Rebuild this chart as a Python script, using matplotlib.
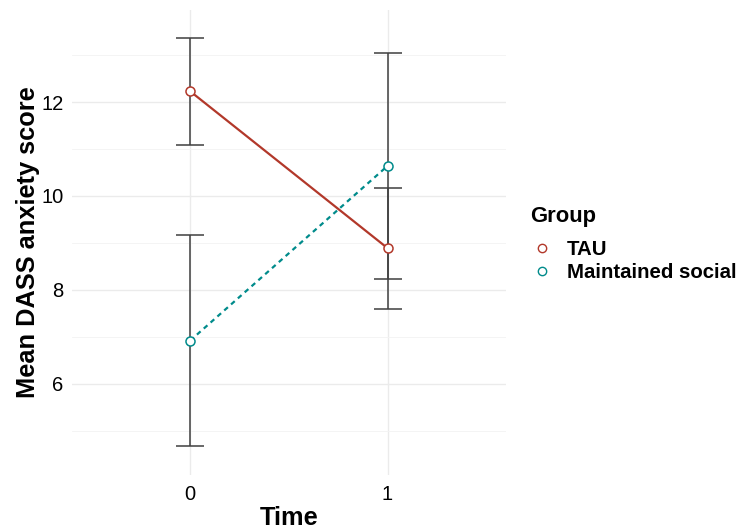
import matplotlib
matplotlib.use("Agg")
from matplotlib import pyplot as plt
from matplotlib.lines import Line2D

plt.rcParams["font.family"] = ["Liberation Sans", "DejaVu Sans"]

# summary values
time = [0, 1]
groups = ["TAU", "Maintained social"]
tau_mean = [12.23, 8.89]
tau_err = [1.14, 1.29]
soc_mean = [6.92, 10.64]
soc_err = [2.25, 2.41]

colors = {"TAU": "#B2382A", "Maintained social": "#008B8B"}
styles = {"TAU": "-", "Maintained social": (0, (2.2, 1.9))}

fig = plt.figure(figsize=(7.42, 5.31), dpi=100)
ax = fig.add_axes([0.0966, 0.1055, 0.5853, 0.8757])

for name, mean, err in [("TAU", tau_mean, tau_err),
                        ("Maintained social", soc_mean, soc_err)]:
    ax.errorbar(time, mean, yerr=err, fmt="none", ecolor="#3f3f3f",
                elinewidth=1.1, capsize=10, capthick=1.1, zorder=2)
    ax.plot(time, mean, linestyle=styles[name], color=colors[name],
            linewidth=1.6, zorder=3)
    ax.plot(time, mean, "o", markersize=6.5, markerfacecolor="white",
            markeredgecolor=colors[name], markeredgewidth=1.1, zorder=4)

ax.set_xlim(-0.6, 1.6)
ax.set_ylim(4.06, 13.96)
ax.set_xticks(time)
ax.set_yticks([6, 8, 10, 12])
ax.set_yticks([5, 7, 9, 11, 13], minor=True)
ax.grid(True, which="major", color="#EBEBEB", linewidth=1.0)
ax.grid(True, which="minor", axis="y", color="#F3F3F3", linewidth=0.6)
ax.set_axisbelow(True)
for s in ax.spines.values():
    s.set_visible(False)
ax.tick_params(which="both", length=0, labelsize=14.5, colors="black")
ax.tick_params(axis="x", pad=7)
ax.tick_params(axis="y", pad=6)

ax.set_xlabel("Time", fontsize=18.3, fontweight="bold", labelpad=2)
ax.set_ylabel("Mean DASS anxiety score", fontsize=18.3, fontweight="bold",
              labelpad=1)

handles = [Line2D([], [], linestyle="none", marker="o", markersize=6,
                  markerfacecolor="white", markeredgecolor=colors[g],
                  markeredgewidth=1.0) for g in groups]
leg = fig.legend(handles, groups, title="Group", loc="center left",
                 bbox_to_anchor=(0.695, 0.54), frameon=False,
                 prop={"weight": "bold", "size": 14.7},
                 title_fontproperties={"weight": "bold", "size": 15.8},
                 handletextpad=0.6, labelspacing=0.2, handlelength=1.2,
                 borderpad=0.2)
leg._legend_box.align = "left"
leg._legend_box.sep = 9.5

fig.savefig("out.png", dpi=100)
